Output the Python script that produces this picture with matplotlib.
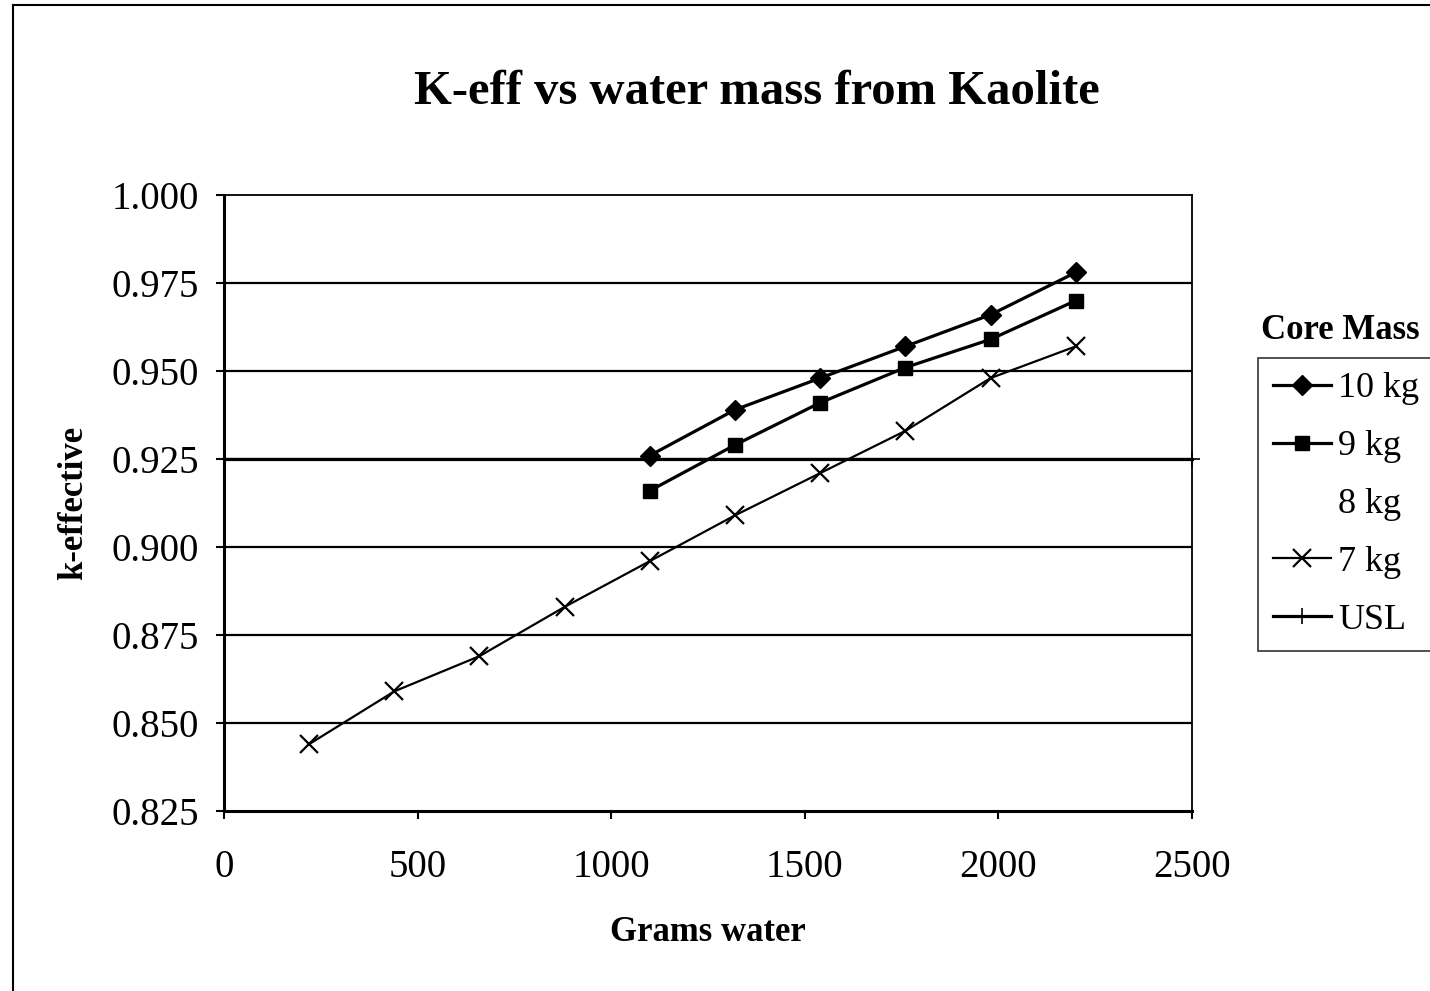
import matplotlib.pyplot as plt
from matplotlib.lines import Line2D

plt.rcParams["font.family"] = ["Liberation Serif", "DejaVu Serif"]

# water mass (g) and k-effective per core mass
water_7kg = [220, 440, 660, 880, 1100, 1320, 1540, 1760, 1980, 2200]
keff_7kg = [0.844, 0.859, 0.869, 0.883, 0.896, 0.909, 0.921, 0.933, 0.948, 0.957]
water_9kg = [1100, 1320, 1540, 1760, 1980, 2200]
keff_9kg = [0.916, 0.929, 0.941, 0.951, 0.959, 0.970]
water_10kg = [1100, 1320, 1540, 1760, 1980, 2200]
keff_10kg = [0.926, 0.939, 0.948, 0.957, 0.966, 0.978]
water_8kg = []
keff_8kg = []
usl_x = [0, 2500]
usl_y = [0.925, 0.925]
yticks = [0.825, 0.850, 0.875, 0.900, 0.925, 0.950, 0.975, 1.000]
xticks = [0, 500, 1000, 1500, 2000, 2500]


def main():
    fig = plt.figure(figsize=(14.3, 9.91), dpi=100)
    ax = fig.add_axes([0.1566, 0.1816, 0.6769, 0.6216])

    for y in yticks[1:-1]:
        ax.axhline(y, color="black", lw=1.6, zorder=1)

    ax.plot(water_10kg, keff_10kg, color="black", lw=2.3, marker="D",
            ms=10, label="10 kg", zorder=3)
    ax.plot(water_9kg, keff_9kg, color="black", lw=2.3, marker="s",
            ms=10, label="9 kg", zorder=3)
    ax.plot(water_8kg, keff_8kg, linestyle="none", marker="none",
            label="8 kg")
    ax.plot(water_7kg, keff_7kg, color="black", lw=1.6, marker="x",
            ms=13, mew=1.6, label="7 kg", zorder=3)
    ax.plot(usl_x, usl_y, color="black", lw=2.3, marker="+", ms=12,
            mew=1.2, label="USL", clip_on=False, zorder=2)

    ax.set_xlim(0, 2500)
    ax.set_ylim(0.825, 1.000)
    ax.set_xticks(xticks)
    ax.set_yticks(yticks)
    ax.set_yticklabels([f"{v:.3f}" for v in yticks])
    ax.tick_params(axis="both", direction="out", length=6, width=1.5,
                   labelsize=28)
    ax.tick_params(axis="x", pad=21)
    ax.tick_params(axis="y", pad=12)
    for side in ["left", "bottom"]:
        ax.spines[side].set_linewidth(2.2)
    for side in ["top", "right"]:
        ax.spines[side].set_linewidth(1.3)

    ax.set_xlabel("Grams water", fontsize=25, fontweight="bold", labelpad=22)
    ax.set_ylabel("k-effective", fontsize=25, fontweight="bold", labelpad=15)
    fig.text(0.529, 0.907, "K-eff vs water mass from Kaolite", ha="center",
             va="center", fontsize=35, fontweight="bold")

    fig.text(0.937, 0.667, "Core Mass", ha="center", va="center",
             fontsize=25, fontweight="bold")
    leg = ax.legend(loc="upper left", bbox_to_anchor=(0.88, 0.639),
                    bbox_transform=fig.transFigure, fontsize=26,
                    frameon=True, fancybox=False, handlelength=1.6,
                    handletextpad=0.2, labelspacing=0.68, borderaxespad=0,
                    borderpad=0.4)
    leg.get_frame().set_edgecolor("black")
    leg.get_frame().set_linewidth(1.2)

    # outer chart frame (right and bottom edges fall outside the scan)
    fig.add_artist(Line2D([0.009, 1.0], [0.995, 0.995], color="black",
                          lw=1.5, transform=fig.transFigure))
    fig.add_artist(Line2D([0.009, 0.009], [0.0, 0.995], color="black",
                          lw=1.5, transform=fig.transFigure))

    fig.savefig("out.png", dpi=100)


if __name__ == "__main__":
    main()
